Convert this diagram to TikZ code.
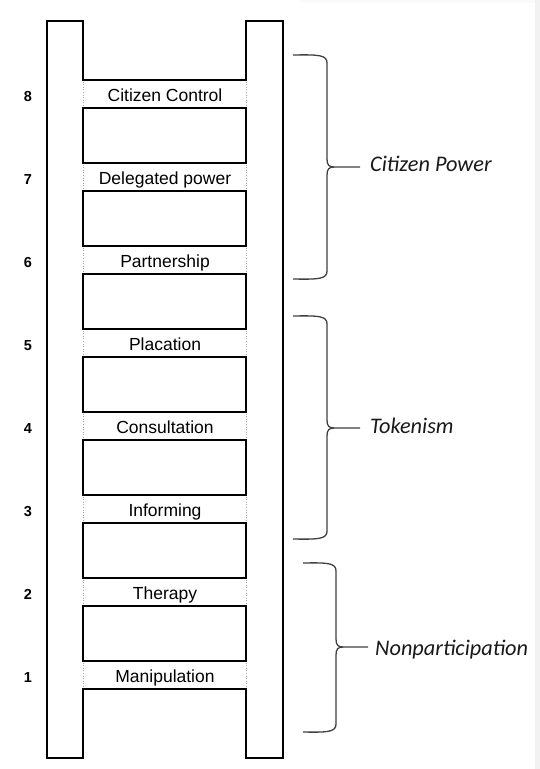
\documentclass[tikz,border=0pt]{standalone}
\usepackage{fontspec}
\setmainfont{Liberation Sans}
\newfontfamily\grpfont{Carlito}
\begin{document}
\begin{tikzpicture}[x=1pt,y=-1pt,
  rail/.style={draw=black,line width=2.6pt,line join=miter},
  rungside/.style={draw=gray!70,line width=0.6pt,dotted},
  rungtext/.style={font=\fontsize{17.5}{18}\selectfont,anchor=base,inner sep=0pt},
  numtext/.style={font=\fontsize{14.5}{15}\selectfont\bfseries,anchor=base,inner sep=0pt},
  grouptext/.style={font=\grpfont\itshape\fontsize{22.3}{23}\selectfont,anchor=base west,inner sep=0pt,text=black!90},
  bracestyle/.style={draw=black!75,line width=1.3pt}]
\useasboundingbox (0,0) rectangle (540,769);
\fill[white] (0,0) rectangle (540,769);
\fill[black!5] (535,0) rectangle (540,769);
\fill[black!2] (300,0) rectangle (535,3);
% ladder outline
\draw[rail] (83,80) -- (83,21) -- (47,21) -- (47,758) -- (83,758) -- (83,689)
  -- (246,689) -- (246,758) -- (283,758) -- (283,21) -- (246,21) -- (246,80) -- cycle;
% holes between rungs
\foreach \k in {0,...,6}{
  \draw[rail] (83,{108+83*\k}) rectangle (246,{163+83*\k});
}
% dotted rung sides
\foreach \k in {0,...,7}{
  \draw[rungside] (83,{81.5+83*\k}) -- (83,{106.5+83*\k});
  \draw[rungside] (246,{81.5+83*\k}) -- (246,{106.5+83*\k});
}
% rung labels
\node[rungtext] (r8) at (165,101) {Citizen Control};
\node[rungtext] (r7) at (165,184) {Delegated power};
\node[rungtext] (r6) at (165,267) {Partnership};
\node[rungtext] (r5) at (165,350) {Placation};
\node[rungtext] (r4) at (165,433) {Consultation};
\node[rungtext] (r3) at (165,516) {Informing};
\node[rungtext] (r2) at (165,599) {Therapy};
\node[rungtext] (r1) at (165,682) {Manipulation};
% numbers
\node[numtext] (n8) at (28,101) {8};
\node[numtext] (n7) at (28,184) {7};
\node[numtext] (n6) at (28,267) {6};
\node[numtext] (n5) at (28,350) {5};
\node[numtext] (n4) at (28,433) {4};
\node[numtext] (n3) at (28,516) {3};
\node[numtext] (n2) at (28,599) {2};
\node[numtext] (n1) at (28,682) {1};
% braces: left, vertical, tip, top, mid, bottom
\newcommand\ladderbrace[6]{%
  \draw[bracestyle] (#1,#4) .. controls ({#2-8},{#4-0.5}) and (#2,{#4}) .. (#2,{#4+8})
    -- (#2,{#5-8}) .. controls (#2,{#5-2}) and ({#2+2},#5) .. ({#2+7},#5) -- (#3,#5);
  \draw[bracestyle] (#1,#6) .. controls ({#2-8},{#6+0.5}) and (#2,{#6}) .. (#2,{#6-8})
    -- (#2,{#5+8}) .. controls (#2,{#5+2}) and ({#2+2},#5) .. ({#2+7},#5);
}
\ladderbrace{293}{327}{360}{55}{167}{279}
\ladderbrace{293}{327}{360}{316}{428}{539}
\ladderbrace{303}{336}{368}{563}{647}{732}
\node[grouptext] (g1) at (370,171) {Citizen Power};
\node[grouptext] (g2) at (370,433) {Tokenism};
\node[grouptext] (g3) at (375,655) {Nonparticipation};
\end{tikzpicture}
\end{document}
